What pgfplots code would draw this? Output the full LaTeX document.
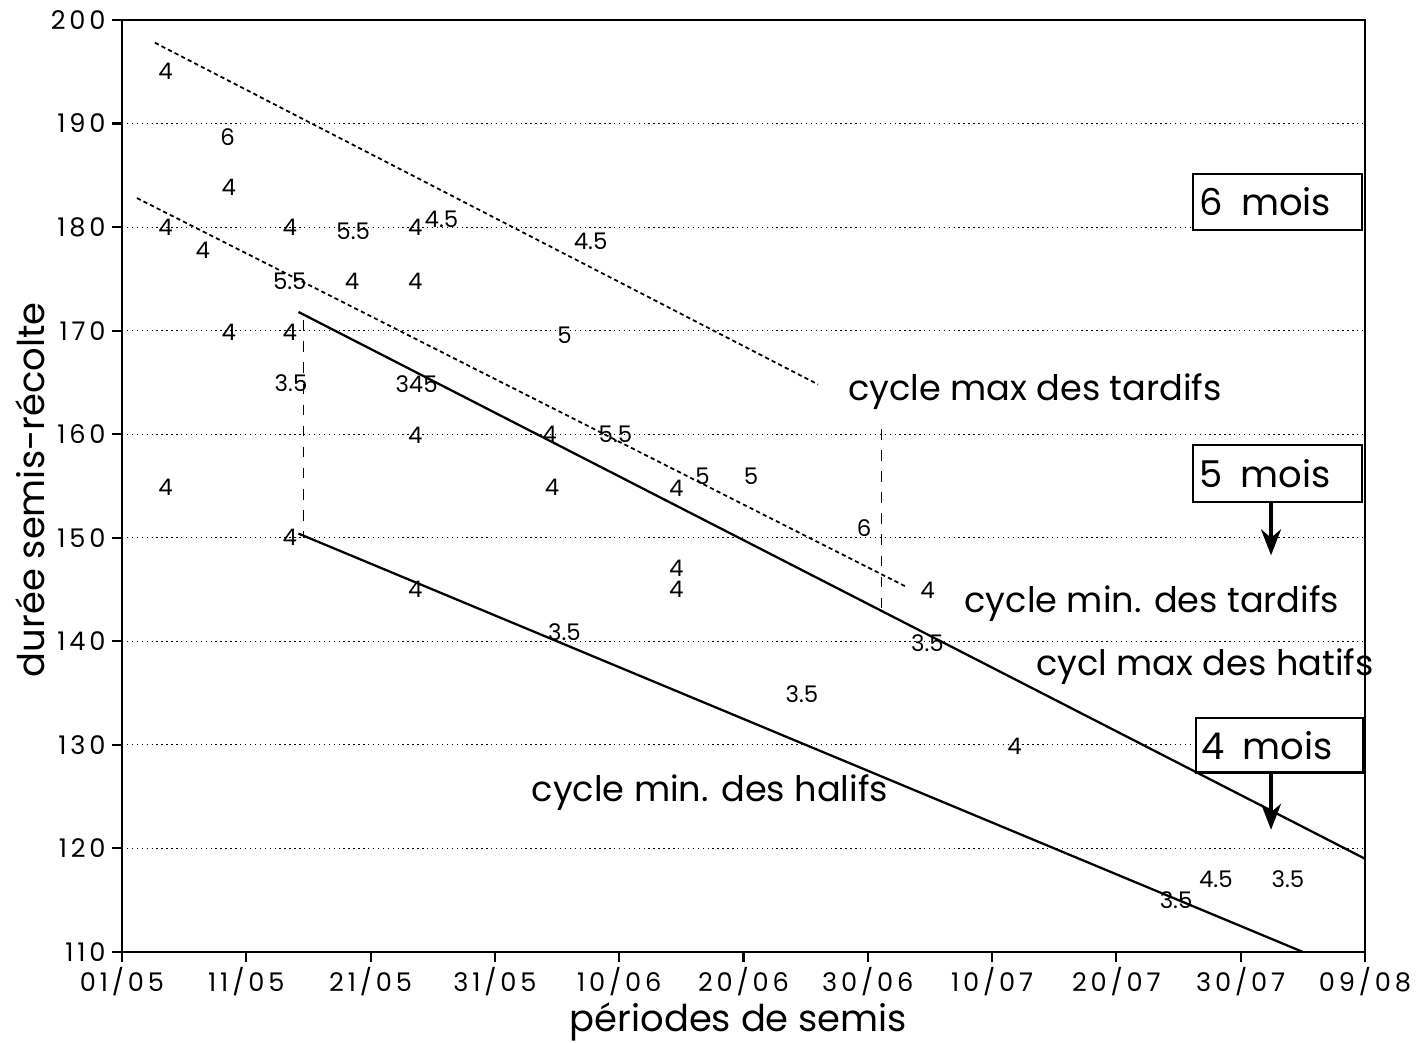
\documentclass[border=0pt]{standalone}
\usepackage{fontspec}
\setmainfont{Poppins}
\newfontfamily\tickfont{Poppins}[LetterSpace=15]
\usepackage{pgfplots}
\usetikzlibrary{arrows.meta}
\pgfplotsset{compat=1.18}
\begin{document}
\begin{tikzpicture}
\begin{axis}[
  scale only axis, width=124.3mm, height=93.2mm,
  xmin=0, xmax=100, ymin=110, ymax=200,
  xtick={0,10,...,100},
  xticklabels={01/05,11/05,21/05,31/05,10/06,20/06,30/06,10/07,20/07,30/07,09/08},
  ytick={110,120,...,200},
  tick pos=left, tick align=outside,
  major tick length=1mm,
  tick style={black, line width=0.6pt},
  ymajorgrids, grid style={black, densely dotted, line width=0.3pt},
  axis line style={line width=0.7pt},
  /pgf/number format/assume math mode=true,
  tick label style={font=\tickfont\fontsize{7.3}{8}\selectfont},
  yticklabel style={xshift=0.6mm},
  xticklabel style={yshift=0.7mm},
  xlabel={périodes de semis}, ylabel={durée semis-récolte},
  label style={font=\fontsize{10.5}{12}\selectfont},
  xlabel style={at={(axis description cs:0.496,-0.075)}, anchor=center},
  ylabel style={at={(axis description cs:-0.074,0.496)}, anchor=center},
  clip=false,
]
% number labels (data)
\addplot[draw=none, mark=none, nodes near coords, point meta=explicit symbolic,
  every node near coord/.append style={anchor=center, inner sep=0pt, font=\fontsize{6.5}{7}\selectfont}]
  table[meta=lab] {
x y lab
3.5 195 4
8.5 188.7 6
8.6 183.8 4
3.5 180 4
6.5 177.8 4
13.5 180 4
18.6 179.6 5.5
23.6 180 4
25.7 180.8 4.5
37.7 178.6 4.5
13.5 174.8 5.5
18.5 174.8 4
23.6 174.8 4
8.6 169.8 4
13.5 169.8 4
35.6 169.6 5
13.6 164.9 3.5
23.7 164.8 345
23.6 159.9 4
34.4 160 4
39.7 160 5.5
3.5 154.9 4
34.6 154.9 4
44.6 154.8 4
46.7 155.9 5
50.6 155.9 5
59.7 150.9 6
13.5 150 4
44.6 147 4
44.6 145 4
23.6 145 4
64.8 144.9 4
35.6 140.9 3.5
64.8 139.8 3.5
54.7 134.9 3.5
71.8 129.9 4
84.8 115 3.5
88.0 117 4.5
93.8 117 3.5
};
% cycle max des tardifs
\addplot[black, line width=0.5pt, dash pattern=on 1.2pt off 0.9pt] coordinates {(2.65,197.8) (56,164.8)};
% cycle min des tardifs
\addplot[black, line width=0.5pt, dash pattern=on 1.2pt off 0.9pt] coordinates {(1.2,182.8) (63.2,145.2)};
% cycle max des hatifs
\addplot[black, line width=0.65pt] coordinates {(14.2,171.8) (100,119.0)};
% cycle min des hatifs
\addplot[black, line width=0.65pt] coordinates {(14.2,150.4) (95,110)};
% vertical dashed
\addplot[black, line width=0.5pt, dashed] coordinates {(14.6,171) (14.6,150)};
\addplot[black, line width=0.5pt, dashed] coordinates {(61.1,160.5) (61.1,143.2)};

\begin{scope}[every node/.style={font=\fontsize{10}{12}\selectfont}]
\node at (axis cs:73.45,164.1) {cycle max des tardifs};
\node at (axis cs:82.86,143.6) {cycle min. des tardifs};
\node at (axis cs:87.13,137.6) {cycl max des hatifs};
\node at (axis cs:47.3,125.4) {cycle min. des halifs};
\end{scope}
\draw[line width=0.8pt, fill=white] (axis cs:86.16,179.72) rectangle (axis cs:99.76,185.13);
\node[font=\fontsize{10.5}{12}\selectfont] at (axis cs:91.96,182.5) {6\hspace{0.5em}mois};
\draw[line width=0.8pt, fill=white] (axis cs:86.16,153.46) rectangle (axis cs:99.76,158.96);
\node[font=\fontsize{10.5}{12}\selectfont] at (axis cs:91.96,156.2) {5\hspace{0.5em}mois};
\draw[line width=0.8pt, fill=white] (axis cs:86.4,127.3) rectangle (axis cs:99.84,132.6);
\node[font=\fontsize{10.5}{12}\selectfont] at (axis cs:92.1,129.9) {4\hspace{0.5em}mois};
\draw[line width=1.1pt, -{Stealth[length=2.6mm,width=2mm]}] (axis cs:92.44,153.46) -- (axis cs:92.44,148.3);
\draw[line width=1.1pt, -{Stealth[length=2.6mm,width=2mm]}] (axis cs:92.44,127.3) -- (axis cs:92.44,121.8);
\end{axis}
\pgfresetboundingbox
\path[use as bounding box] ([shift={(-12.2mm,-9.1mm)}]current axis.south west) rectangle ([shift={(5.6mm,2mm)}]current axis.north east);
\end{tikzpicture}
\end{document}
